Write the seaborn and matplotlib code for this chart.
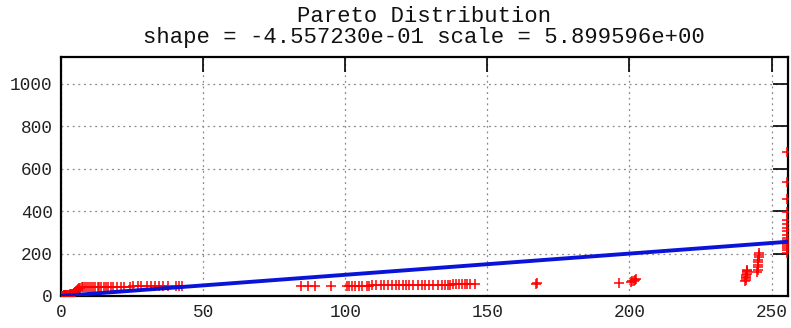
import matplotlib
matplotlib.use("Agg")
import matplotlib.pyplot as plt
import seaborn as sns
import pandas as pd

title_lines = ["Pareto Distribution", "shape = -4.557230e-01 scale = 5.899596e+00"]

x_vals = [0.1, 0.3, 0.5, 0.7, 0.9, 1.1, 1.3, 1.5, 1.7, 1.9, 2.1, 2.4, 2.7, 3.0, 3.3, 3.6, 3.9, 4.2, 4.5, 4.8, 5.1, 5.4, 5.7, 6.0, 6.3,
          6.8, 7.3, 7.9, 8.5, 9.2, 10.0, 10.6, 11.3, 12.1, 12.9, 13.5, 14.2, 15.0, 15.8, 16.6, 17.5, 18.3, 19.8, 21.0, 22.3, 24.2, 25.5,
          27.0, 28.3, 30.1, 31.6, 33.0, 34.4, 36.0, 37.5, 40.6, 41.6, 42.5,
          84.5, 86.8, 89.5, 95.0, 100.5, 101.5, 102.5, 103.5, 105.0, 106.0, 107.5, 108.5, 109.5, 111.0, 112.5, 113.5, 115.0, 116.5,
          118.0, 119.0, 120.5, 121.5, 122.5, 124.0, 125.5, 127.0, 128.0, 129.5, 131.0, 132.5, 134.0, 135.0, 136.0, 137.0, 138.0,
          139.0, 140.0, 141.0, 142.0, 143.0, 144.0, 145.5,
          167.2, 167.6,
          196.5, 200.5, 201.0, 201.5, 202.0, 202.3,
          240.8, 240.9, 241.0, 241.0, 241.1, 241.2, 241.3, 241.4, 241.4,
          245.0, 245.1, 245.2, 245.3, 245.3, 245.4, 245.5, 245.6, 245.6,
          255.6, 255.6, 255.6, 255.6, 255.6, 255.6, 255.6, 255.6, 255.6, 255.6, 255.6, 255.6, 255.6, 255.6, 255.6, 255.6, 255.6]
y_vals = [0.5, 1, 1.5, 2, 2.5, 3, 3.5, 4, 4.5, 5, 5.5, 6, 6.5, 7, 8, 9, 10, 11, 12, 14, 17, 22, 28, 34, 38,
          40, 40.5, 41, 41, 41.5, 41.5, 42, 42, 42.5, 42.5, 43, 43, 43, 43.5, 43.5, 44, 44, 44, 44.5, 44.5, 44.5, 45,
          45, 45, 45, 45.5, 45.5, 45.5, 46, 46, 46, 46.5, 46.5,
          47, 47, 47.5, 48, 48, 48.5, 48.5, 49, 49, 49, 49.5, 49.5, 50, 50, 50, 50.5, 50.5, 51,
          51, 51, 51.5, 51.5, 52, 52, 52, 52.5, 52.5, 53, 53, 53.5, 53.5, 54, 54, 54, 54.5,
          54.5, 55, 55, 55, 55.5, 55.5, 56,
          58, 62,
          62, 66, 69, 72, 75, 78,
          70, 77, 84, 91, 98, 105, 112, 118, 122,
          112, 124, 136, 148, 160, 172, 184, 195, 204,
          205, 215, 225, 235, 245, 255, 265, 275, 290, 305, 320, 340, 360, 395, 458, 538, 680]

line_x = [0, 256]
line_y = [0, 256]

x_ticks = [0, 50, 100, 150, 200, 250]
y_ticks = [0, 200, 400, 600, 800, 1000]

sns.set_theme(style="white")
plt.rcParams['font.family'] = ['Liberation Mono', 'DejaVu Sans Mono']

fig = plt.figure(figsize=(7.91, 3.28), dpi=100)
ax = fig.add_axes([61/791, 32/328, (788-61)/791, (296-57)/328])

pts = pd.DataFrame({"x": x_vals, "y": y_vals})
ln = pd.DataFrame({"x": line_x, "y": line_y})

sns.scatterplot(data=pts, x="x", y="y", marker="+", color="red", s=60, linewidth=1.1, ax=ax, zorder=3, clip_on=True)
sns.lineplot(data=ln, x="x", y="y", color="#0a14d8", linewidth=2.8, ax=ax, zorder=4)

ax.set_xlim(0, 255.8)
ax.set_ylim(0, 1127)
ax.set_xticks(x_ticks)
ax.set_yticks(y_ticks)
ax.set_xlabel("")
ax.set_ylabel("")
ax.grid(True, color="#888888", linestyle=(0, (1.5, 3)), linewidth=0.9)
ax.tick_params(direction="in", length=11, width=1.2, color="black", top=True, right=True,
               labelsize=12.8, labelcolor="#222222", pad=6)
for sp in ax.spines.values():
    sp.set_color("black")
    sp.set_linewidth(1.6)

fig.text(424/791, 1 - 17/328, title_lines[0], ha="center", va="center", fontsize=16, color="#111111")
fig.text(424/791, 1 - 38/328, title_lines[1], ha="center", va="center", fontsize=16, color="#111111")

fig.savefig("out.png", dpi=100)
